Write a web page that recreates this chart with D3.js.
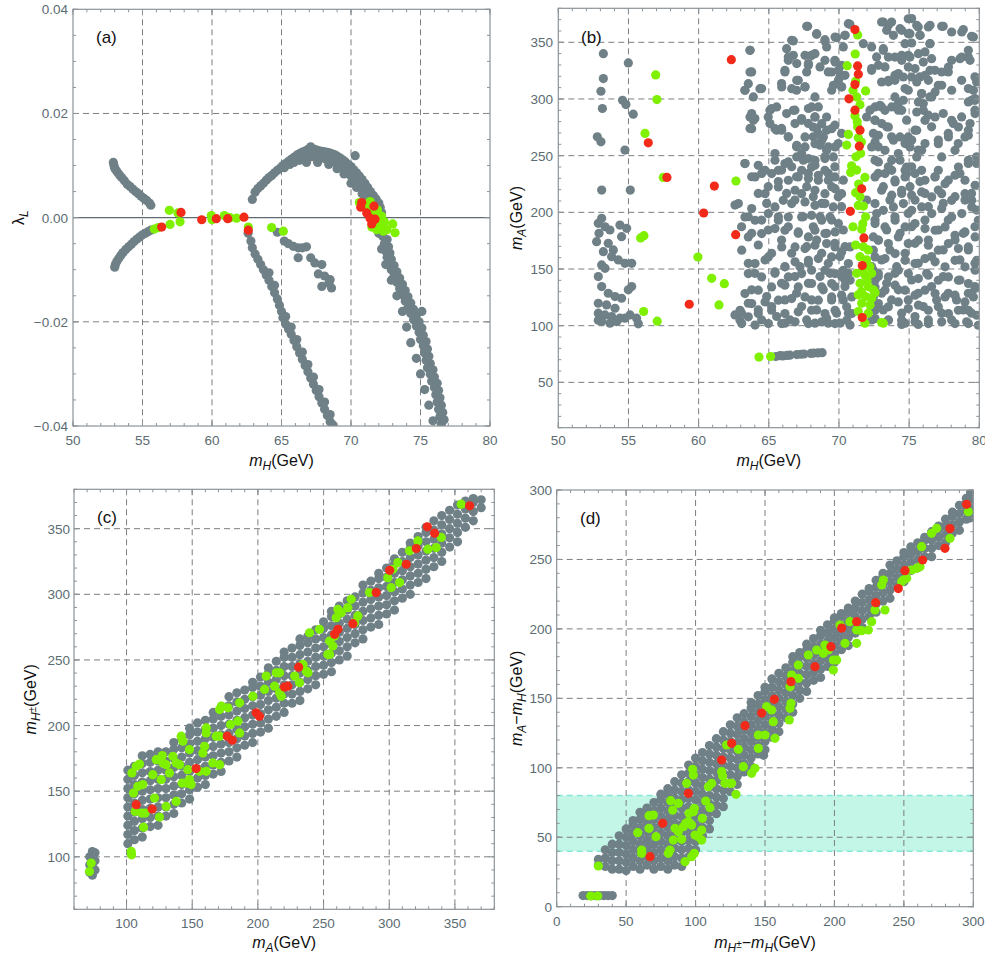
<!DOCTYPE html>
<meta charset="utf-8">
<script src="https://cdn.jsdelivr.net/npm/d3@7"></script>
<style>
  body { margin: 0; background: #fff; }
  text { font-family: "Liberation Sans", Arial, sans-serif; }
  .tick-label { font-size: 13.5px; fill: #5b6b72; }
  .title { font-size: 16px; fill: #111; }
  .tag { font-size: 17px; fill: #111; }
</style>

<div id="wrapper"></div>

<script>
  // ---------- panel (a): mH vs lambda_L ----------
  const aGray = [
    [52.9,0.0106],[52.95,0.0100],[53.0,0.0095],[53.1,0.0091],[53.2,0.0087],[53.35,0.0082],[53.5,0.0077],[53.7,0.0071],[53.9,0.0064],[54.1,0.0060],[54.3,0.0055],[54.5,0.0050],[54.7,0.0046],[54.9,0.0041],[55.1,0.0037],[55.3,0.0033],[55.5,0.0028],[55.6,0.0024],
    [53.0,-0.0095],[53.05,-0.0090],[53.15,-0.0084],[53.3,-0.0078],[53.45,-0.0072],[53.6,-0.0067],[53.8,-0.0061],[54.0,-0.0056],[54.2,-0.0051],[54.4,-0.0046],[54.6,-0.0041],[54.8,-0.0037],[55.0,-0.0033],[55.2,-0.0030],[55.4,-0.0027],[55.6,-0.0024],
    [62.9,0.0035],[63.1,0.0049],[63.3,0.0056],[63.5,0.0061],[63.7,0.0066],[63.9,0.0072],[64.1,0.0077],[64.3,0.0081],[64.5,0.0086],[64.7,0.0091],[64.9,0.0095],[65.1,0.0100],[65.3,0.0104],[65.2,0.0096],[65.5,0.0108],[65.7,0.0112],[65.6,0.0102],[65.9,0.0116],[66.1,0.0120],[65.9,0.0106],[66.3,0.0123],[66.5,0.0126],[66.3,0.0110],[66.7,0.0128],[66.9,0.0131],[66.6,0.0114],[67.1,0.0136],[67.2,0.0129],[67.0,0.0116],[67.4,0.0131],[67.6,0.0129],[67.4,0.0116],[67.8,0.0128],[68.0,0.0127],[67.8,0.0114],[68.2,0.0126],[68.4,0.0125],[68.2,0.0112],[68.6,0.0123],[68.8,0.0121],[68.6,0.0108],[69.0,0.0118],[69.2,0.0115],[69.0,0.0104],[69.4,0.0111],[69.6,0.0107],[69.4,0.0096],[69.8,0.0102],[70.0,0.0098],[69.8,0.0088],[70.3,0.0119],[70.2,0.0092],[70.0,0.0080],[70.4,0.0086],[70.6,0.0080],[70.3,0.0072],[70.8,0.0073],[71.0,0.0066],[70.6,0.0062],[71.2,0.0058],[71.4,0.0050],[70.9,0.0052],[71.6,0.0043],[71.8,0.0036],[71.2,0.0042],[72.0,0.0028],[71.5,0.0034],[72.1,0.0020],[72.2,0.0010],[72.3,-0.0005],
    [69.0,0.0094],[69.5,0.0084],[70.0,0.0066],[70.4,0.0058],[70.8,0.0046],[71.1,0.0034],[68.4,0.0102],[67.6,0.0106],[66.8,0.0106],
    [72.0,-0.0030],[72.3,-0.0036],[72.6,-0.0042],[72.4,-0.0050],[72.7,-0.0056],[72.5,-0.0064],[72.8,-0.0068],[72.6,-0.0076],[72.9,-0.0080],[72.7,-0.0088],[73.1,-0.0092],[72.9,-0.0100],[73.3,-0.0104],[73.1,-0.0112],[73.5,-0.0116],[73.3,-0.0124],[73.7,-0.0128],[73.5,-0.0136],[73.9,-0.0140],[73.7,-0.0148],[74.1,-0.0152],[73.9,-0.0160],[74.3,-0.0164],[74.1,-0.0172],[74.5,-0.0176],[74.3,-0.0184],[74.7,-0.0188],[74.5,-0.0196],[75.1,-0.0180],[74.9,-0.0200],[74.7,-0.0208],[75.1,-0.0212],[74.9,-0.0220],[75.2,-0.0226],[75.0,-0.0234],[75.4,-0.0238],[75.2,-0.0246],[75.5,-0.0252],[75.3,-0.0260],[75.6,-0.0266],[75.4,-0.0274],[75.7,-0.0280],[75.5,-0.0288],[75.9,-0.0292],[75.7,-0.0300],[76.0,-0.0306],[75.8,-0.0314],[76.2,-0.0318],[76.0,-0.0326],[76.3,-0.0332],[76.1,-0.0340],[76.4,-0.0346],[76.2,-0.0354],[76.5,-0.0360],[76.3,-0.0368],[76.6,-0.0374],[76.4,-0.0382],[76.7,-0.0388],[76.5,-0.0396],
    [72.2,-0.0060],[72.5,-0.0090],[72.9,-0.0120],[73.3,-0.0150],[73.7,-0.0180],[74.0,-0.0210],[74.3,-0.0240],[74.7,-0.0270],[75.0,-0.0300],[75.3,-0.0330],[75.6,-0.0360],[75.9,-0.0390],
    [62.6,-0.0030],[62.8,-0.0045],[62.9,-0.0058],[63.1,-0.0070],[63.3,-0.0080],[63.5,-0.0090],[63.7,-0.0100],[63.9,-0.0110],[64.1,-0.0120],[64.3,-0.0132],[64.5,-0.0144],[64.7,-0.0156],[64.85,-0.0168],[65.0,-0.0180],[65.1,-0.0192],[65.3,-0.0204],[65.5,-0.0214],[65.7,-0.0224],[65.9,-0.0236],[66.1,-0.0248],[66.3,-0.0260],[66.5,-0.0272],[66.7,-0.0284],[66.9,-0.0296],[67.1,-0.0308],[67.3,-0.0320],[67.5,-0.0332],[67.7,-0.0344],[67.9,-0.0356],[68.1,-0.0368],[68.3,-0.0380],[68.5,-0.0392],
    [65.3,-0.0190],[65.7,-0.0210],[66.1,-0.0234],[66.5,-0.0258],[66.9,-0.0282],[67.3,-0.0306],[67.7,-0.0330],[68.1,-0.0354],[68.5,-0.0378],[68.7,-0.0398],[64.5,-0.0130],[64.1,-0.0106],
    [64.7,-0.0028],[65.2,-0.0045],[65.5,-0.0050],[65.85,-0.0055],[66.2,-0.0058],[66.5,-0.0058],[66.8,-0.0056],[66.2,-0.0077],[67.1,-0.0077],[67.4,-0.0087],[67.9,-0.0090],[67.65,-0.0108],[68.1,-0.0112],[68.5,-0.0119],[67.9,-0.0132],[68.6,-0.0135],[68.4,-0.0126]
  ];
  const aGreen = [
    [55.85,-0.0022],[56.14,-0.0019],[56.98,-0.0013],[56.93,0.0014],[57.7,-0.0008],[57.55,0.0009],[59.95,0.0004],[60.0,-0.0004],[60.89,0.0004],[61.3,0.0],[61.77,-0.0001],[62.61,-0.0018],[64.29,-0.0019],[65.13,-0.0026],
    [70.6,0.0029],[71.37,0.0031],[71.6,0.0009],[71.97,-0.0004],[72.09,-0.0017],[72.33,-0.0026],[73.0,-0.0012],[73.17,-0.0029],[71.85,-0.0023],[72.2,0.0003],[71.13,0.0022],[72.58,-0.0023],[71.9,0.0015],[71.5,-0.0018],[72.4,-0.0008]
  ];
  const aRed = [
    [56.38,-0.0018],[57.77,0.001],[59.26,-0.0004],[60.31,-0.0002],[61.13,-0.0002],[62.3,0.0001],[62.61,-0.0024],
    [70.77,0.0029],[70.7,0.002],[71.65,0.0022],[71.13,0.0009],[71.37,-0.0001],[71.56,-0.0007],[71.73,-0.0003],[71.49,-0.0012]
  ];

  // ---------- panel (b): mH vs mA ----------
  const bGray = [
    [53.21,340],[53.21,318],[53.04,306.8],[53.14,291.6],[54.99,331.8],[54.58,298.9],[54.82,295.1],[55.34,286.6],[52.78,266.6],[53.04,262.2],[54.75,254.9],[53.09,219.6],[55.13,219.6],
    [53.09,194.7],[52.85,190.3],[53.33,187.3],[53.68,184.4],[52.9,181.5],[54.39,188.8],[54.87,185.9],[54.51,178.5],[52.73,174.1],[53.56,172.7],[53.92,166.8],[53.21,165.3],[53.8,160.9],[54.28,158.0],[54.75,155.0],[55.23,155.0],[53.09,153.6],[53.33,150.6],[52.85,143.3],[53.09,134.5],[55.23,134.5],[54.99,131.6],[53.56,128.6],[54.04,125.7],[54.51,124.2],[52.85,119.8],[53.44,118.3],[54.04,115.4],[52.85,111.0],[53.33,109.5],[53.8,108.1],[54.39,106.6],[55.11,109.5],[55.58,106.6],[53.09,103.6],[53.68,102.2],[54.16,103.6],[55.7,101.6],[52.85,104.7],[54.75,106.6],
    [67.77,364.1],[68.41,357.6],[69.0,351.2],[69.83,354.1],[70.43,356.2],[70.78,365.9],[73.04,367.9],[73.4,360.6],[73.75,367.9],[74.35,362.0],[74.94,370.8],[75.06,357.6],[75.65,363.5],[75.77,356.2],[76.37,363.5],[77.43,364.1],[78.03,359.1],[78.86,361.2],[79.45,355.3],[75.18,349.4],[76.48,348.8],[70.31,345.9],[69.12,345.9],[66.63,351.8],
    [63.66,343.0],[63.78,323.9],[63.3,307.7],[63.9,301.8],[64.49,309.2],[65.91,313.6],[66.15,323.9],[66.39,334.1],[66.75,338.5],[67.1,316.5],[66.98,307.7],[67.58,310.7],[67.82,329.7],[68.05,338.5],[68.65,328.3],[68.29,301.8],[69.24,323.9],[69.48,307.7],[69.71,334.1],[70.19,310.7],[70.07,319.5],[70.19,329.7],[72.33,345.9],[72.33,326.8],[72.68,337.1],[73.16,344.4],[73.28,328.3],[73.52,315.1],[73.99,320.9],[73.99,301.8],[74.47,334.1],[74.71,309.2],[74.94,338.5],[75.42,326.8],[75.77,319.5],[75.89,304.8],[76.13,341.5],[76.6,335.6],[76.37,316.5],[76.84,325.3],[76.48,301.8],[77.32,312.1],[77.79,323.9],[78.03,334.1],[78.62,335.6],[78.74,316.5],[79.22,309.2],[79.22,337.1],[79.69,319.5],[79.69,300.4],[79.45,298.9],
    [63.78,287.2],[64.01,282.8],[63.66,274.0],[65.2,291.6],[64.96,284.2],[65.91,274.0],[66.39,266.6],[65.56,272.5],[66.86,290.1],[67.34,282.8],[67.82,291.6],[68.29,284.2],[67.82,278.4],[68.41,274.0],[68.17,266.6],[68.77,263.7],[69.12,272.5],[69.24,257.8],[69.71,276.9],[70.19,269.6],[69.95,260.7],[66.98,257.8],[67.34,251.9],[72.21,290.1],[72.57,281.3],[72.45,269.6],[72.8,257.8],[73.04,293.0],[73.4,275.4],[73.75,266.6],[74.23,290.1],[74.59,298.9],[74.82,281.3],[75.18,263.7],[75.42,272.5],[75.65,254.9],[76.01,296.0],[76.37,285.7],[76.6,275.4],[77.08,263.7],[77.43,287.2],[77.79,269.6],[78.15,278.4],[78.5,260.7],[78.74,284.2],[79.22,268.1],[79.69,290.1],[79.81,249.0],[74.71,260.7],[76.13,260.7],
    [63.3,243.1],[63.78,231.4],[64.49,234.3],[64.96,222.6],[65.44,246.0],[65.91,237.3],[65.68,227.1],[66.27,216.7],[66.63,240.2],[66.98,231.4],[66.86,210.8],[67.46,246.0],[67.82,234.3],[67.7,222.6],[68.29,241.6],[68.53,228.4],[68.17,213.8],[68.77,207.9],[69.0,249.0],[69.24,234.3],[69.48,222.6],[69.71,240.2],[69.95,213.8],[70.31,228.4],[70.19,205.0],[62.59,206.4],[64.25,216.7],[64.85,207.9],[72.57,246.0],[72.8,234.3],[73.16,222.6],[73.52,240.2],[73.63,210.8],[73.99,228.4],[74.35,246.0],[74.47,216.7],[74.82,234.3],[75.06,222.6],[75.42,210.8],[75.77,227.1],[76.13,216.7],[76.37,205.0],[76.84,231.4],[77.08,219.6],[77.43,207.9],[77.79,228.4],[78.27,213.8],[78.62,234.3],[78.98,210.8],[79.45,216.7],[79.81,202.0],[79.22,243.1],[79.81,243.1],[75.18,240.2],[71.97,210.8],
    [63.06,187.3],[63.54,196.1],[63.78,181.5],[64.49,193.2],[64.25,171.2],[64.96,184.4],[65.2,163.9],[65.68,196.1],[65.91,175.6],[66.39,187.3],[66.63,163.9],[67.1,181.5],[67.46,196.1],[67.7,169.7],[67.82,155.0],[68.17,187.3],[68.41,175.6],[68.65,196.1],[68.77,163.9],[69.12,181.5],[69.24,155.0],[69.48,193.2],[69.71,172.7],[70.07,161.0],[70.31,184.4],[70.43,169.7],[63.54,155.0],[64.73,158.0],[66.15,152.1],[67.22,152.1],[72.57,193.2],[72.8,175.6],[73.04,158.0],[73.4,184.4],[73.63,166.8],[73.99,196.1],[74.11,152.1],[74.35,181.5],[74.71,163.9],[75.18,187.3],[75.42,172.7],[75.65,155.0],[76.13,193.2],[76.37,175.6],[76.6,161.0],[77.08,184.4],[77.43,166.8],[77.79,193.2],[78.27,175.6],[78.62,158.0],[78.86,181.5],[79.22,166.8],[79.69,155.0],[79.69,187.3],[72.33,152.1],[74.94,199.0],
    [62.59,109.5],[63.06,111.0],[62.94,105.1],[63.54,119.8],[63.78,131.6],[64.25,113.9],[64.49,105.1],[64.85,125.7],[65.2,116.9],[65.56,108.1],[65.91,137.4],[66.15,122.7],[66.51,105.1],[66.86,143.3],[66.98,128.6],[67.34,116.9],[67.7,105.1],[67.82,137.4],[68.05,122.7],[68.41,113.9],[68.65,143.3],[68.88,131.6],[69.12,106.6],[69.36,146.2],[69.48,122.7],[69.71,134.5],[69.83,111.0],[70.07,102.2],[70.19,143.3],[70.31,122.7],[70.43,134.5],[70.67,111.0],[70.67,146.2],[64.01,146.2],[65.44,146.2],[68.29,102.2],[69.24,102.2],[66.15,102.2],[72.8,143.3],[73.04,128.6],[73.16,113.9],[73.4,137.4],[73.52,105.1],[73.75,122.7],[73.99,146.2],[74.23,131.6],[74.47,111.0],[74.71,102.2],[74.94,122.7],[75.18,140.3],[75.42,108.1],[75.65,128.6],[76.01,116.9],[76.25,146.2],[76.37,105.1],[76.6,134.5],[76.96,122.7],[77.32,111.0],[77.43,143.3],[77.79,128.6],[78.03,105.1],[78.38,122.7],[78.62,140.3],[78.86,113.9],[79.22,128.6],[79.45,111.0],[79.69,134.5],[79.1,103.4],[75.65,101.1],[74.47,101.1],[72.33,105.1],
    [65.5,72.8],[65.8,73.5],[66.0,73.3],[66.3,73.8],[66.5,74.0],[67.0,74.5],[67.3,74.8],[67.5,75.0],[68.0,75.5],[68.2,75.8],[68.5,76.0],[68.8,76.2]
  ];
  // extra gray points read from close-ups of the dense right part of (b)
  const bGrayDense = [
    [67.70,364.1],[68.41,357.0],[69.0,352.3],[69.72,354.7],[70.43,356.2],[70.67,366.4],[71.74,348.8],[73.16,367.9],[73.52,365.0],[73.88,356.2],[74.47,360.6],[74.94,357.6],[75.18,370.9],[75.54,365.0],[75.78,356.2],[76.49,365.0],[77.32,364.1],[76.49,348.8],[74.71,348.8],[78.75,359.1],[79.58,354.7],
    [63.66,342.9],[66.75,351.2],[66.27,344.4],[66.39,337.0],[66.99,331.2],[67.58,338.5],[68.05,338.5],[67.82,331.2],[67.70,323.8],[68.29,340.0],[69.0,334.1],[69.72,332.6],[69.96,325.3],[69.48,323.8],[69.96,316.5],[69.6,312.1],[70.43,320.9],[70.19,310.6],[66.15,325.3],[63.66,323.8],[63.54,313.5],[63.3,307.7],[64.37,309.1],[65.92,310.6],[66.63,309.1],[66.99,316.5],[67.58,310.6],
    [72.33,325.3],[72.81,329.7],[73.16,342.9],[73.52,337.0],[73.99,337.0],[74.47,338.5],[75.06,337.0],[75.66,340.0],[76.01,332.6],[74.94,328.2],[74.23,322.4],[73.52,316.5],[73.04,315.0],[73.99,316.5],[74.59,319.4],[75.18,319.4],[75.54,315.0],[76.13,320.9],[76.49,325.3],[77.32,323.8],[77.08,312.1],[77.8,328.2],[78.75,337.0],[79.22,342.9],[79.34,334.1],[79.81,315.0],[79.58,307.7],[74.94,307.7],[75.89,304.7],[76.61,301.8],[76.85,306.2],[78.03,307.7],[75.66,297.4],[75.54,288.5],[79.22,297.4],[79.7,298.8],
    [63.66,284.1],[63.9,281.2],[63.78,273.8],[65.08,290.0],[65.56,293.0],[66.27,287.1],[66.75,290.0],[66.87,278.3],[67.34,281.2],[68.05,293.0],[68.53,293.0],[68.29,284.1],[68.17,275.3],[68.77,278.3],[69.12,284.1],[69.48,273.8],[68.89,266.5],[68.53,269.4],[65.08,278.3],[65.44,273.8],[65.92,272.4],[66.39,266.5],[67.58,266.5],[68.29,260.6],[66.99,259.2],[67.58,257.7],[68.65,259.2],[69.12,254.7],[69.72,257.7],[69.6,248.9],[69.0,247.4],[68.29,245.9],[67.82,247.4],[66.99,248.9],[66.39,244.5],[65.44,251.8],[65.68,237.1],[66.15,243.0],[64.25,241.5],[63.3,243.0],[64.73,237.1],[67.34,237.1],[68.05,240.0],[69.0,237.1],
    [71.97,284.1],[72.57,293.0],[72.92,294.4],[73.28,290.0],[73.76,293.0],[74.23,295.9],[74.47,290.0],[72.57,281.2],[73.04,278.3],[73.52,275.3],[72.81,268.0],[72.57,262.1],[72.33,257.7],[73.28,254.7],[73.88,263.6],[74.35,266.5],[74.94,266.5],[75.06,257.7],[74.23,251.8],[73.76,245.9],[72.81,244.5],[74.82,240.0],[75.54,248.9],[75.89,254.7],[75.54,272.4],[76.13,281.2],[76.01,290.0],[76.85,284.1],[78.03,281.2],[78.51,275.3],[77.8,266.5],[77.08,260.6],[77.32,248.9],[78.27,254.7],[78.98,266.5],[79.22,272.4],[79.7,287.1],[79.34,278.3],[79.22,245.9],[78.51,240.0],[77.08,237.1],[75.89,237.1],[74.71,237.1],[73.76,237.1],
    [64.02,231.2],[65.2,234.2],[66.39,228.3],[67.1,231.2],[67.82,229.8],[68.53,232.7],[69.24,228.3],[69.72,231.2],[65.68,222.4],[64.73,216.5],[66.87,219.5],[67.34,216.5],[68.29,219.5],[69.0,216.5],[69.72,220.9],[70.19,216.5],[66.03,210.6],[66.63,207.7],[67.58,209.2],[68.29,206.2],[69.0,207.7],[69.6,204.8],[62.83,207.7],[63.78,203.3],[65.44,204.8],[63.3,195.9],[64.02,193.0],[64.97,198.9],[65.68,193.0],[66.39,195.9],[67.34,195.9],[68.05,197.4],[68.77,193.0],[69.36,195.9],[69.96,190.1],[69.72,182.7],[69.0,181.3],[68.29,184.2],[67.82,178.3],[67.1,182.7],[66.15,184.2],[65.44,185.7],[64.49,181.3],[63.54,178.3],
    [65.92,169.5],[66.87,169.5],[67.58,168.0],[68.29,171.0],[69.12,172.4],[69.72,169.5],[70.19,165.1],[69.48,160.7],[68.53,159.2],[67.82,157.7],[66.87,156.3],[66.15,151.9],[64.97,160.7],[64.02,154.8],[63.07,166.6],[63.54,146.0],[64.49,143.0],[65.44,147.4],[66.39,143.0],[67.34,146.0],[68.05,148.9],[69.0,148.9],[69.72,146.0],[70.31,148.9],[70.43,140.1],[69.48,137.2],[68.77,134.2],[68.05,137.2],[67.1,134.2],[66.15,135.7],[65.2,134.2],[64.25,131.3],[63.3,128.3],
    [62.95,113.6],[63.78,119.5],[64.73,121.0],[65.68,122.5],[66.63,123.9],[67.58,125.4],[68.53,122.5],[69.48,125.4],[70.19,126.9],[70.55,116.6],[69.72,113.6],[69.0,110.7],[68.05,113.6],[67.1,112.2],[66.15,110.7],[65.2,113.6],[64.25,110.7],[63.54,107.8],[63.07,101.9],[64.02,100.5],[64.97,101.9],[65.92,101.9],[66.87,103.4],[67.82,101.9],[68.77,103.4],[69.72,101.9],[70.55,104.8],[70.79,100.5],
    [72.57,231.2],[73.28,234.2],[74.0,226.8],[74.71,231.2],[75.42,234.2],[76.13,228.3],[76.85,231.2],[77.56,225.3],[78.27,232.7],[78.98,228.3],[79.7,223.9],[73.04,219.5],[73.76,215.1],[74.47,219.5],[75.18,215.1],[75.89,218.0],[76.61,213.6],[77.32,216.5],[78.03,210.6],[78.98,216.5],[79.46,210.6],
    [72.57,207.7],[73.16,201.8],[73.88,204.8],[74.59,207.7],[75.18,201.8],[75.89,204.8],[76.61,198.9],[77.32,203.3],[78.03,195.9],[78.75,198.9],[79.46,204.8],[79.93,193.0],[72.57,190.1],[73.28,187.1],[74.0,193.0],[74.71,187.1],[75.42,190.1],[76.13,185.7],[76.85,184.2],[77.56,187.1],[78.27,179.8],[78.98,182.7],[79.7,178.3],
    [72.81,175.4],[73.52,172.4],[74.23,178.3],[74.94,172.4],[75.66,175.4],[76.37,171.0],[77.08,166.6],[77.8,172.4],[78.51,168.0],[79.22,169.5],[79.82,157.7],[72.57,160.7],[73.28,159.2],[74.0,163.6],[74.71,157.7],[75.42,154.8],[76.13,159.2],[76.85,156.3],[77.56,151.9],[78.27,157.7],[78.98,151.9],[79.7,148.9],
    [72.81,146.0],[73.52,143.0],[74.23,148.9],[74.94,146.0],[75.66,141.6],[76.37,144.5],[77.08,140.1],[77.8,143.0],[78.51,140.1],[79.22,137.2],[79.7,132.7],[72.57,134.2],[73.28,131.3],[74.0,135.7],[74.71,131.3],[75.42,126.9],[76.13,131.3],[76.85,128.3],[77.56,125.4],[78.27,126.9],[78.98,121.0],[79.58,125.4],
    [72.81,119.5],[73.52,116.6],[74.23,121.0],[74.94,115.1],[75.66,118.1],[76.37,113.6],[77.08,116.6],[77.8,110.7],[78.51,113.6],[79.22,113.6],[79.82,109.2],[72.57,106.3],[73.52,104.8],[74.47,104.8],[75.42,103.4],[76.37,101.9],[77.32,103.4],[78.27,101.9],[79.22,101.9],[79.93,100.4],
    [70.79,169.5],[70.67,154.8],[70.79,140.1],[70.91,125.4],[70.91,110.7],[72.69,198.9],[72.45,178.3],[72.45,166.6],[72.45,148.9],[72.57,140.1],[72.45,125.4],[72.57,113.6]
  ];
  const bGreen = [
    [56.94,321.2],[57.03,299.5],[56.18,269.6],[57.48,230.8],[55.87,177.4],[56.1,179.4],[59.95,160.6],[60.93,141.8],[61.83,137.1],[61.45,118.3],[56.08,112.5],[57.05,104.0],[62.66,227.6],[64.3,72.3],[65.13,72.8],
    [71.33,356.5],[71.16,339.7],[70.59,329.4],[71.19,315.6],[71.0,307.7],[71.9,307.1],[71.26,301.8],[71.14,285.1],[71.33,275.4],[70.67,268.7],[71.38,265.7],[70.55,259.3],[71.54,251.9],[71.21,249.0],[70.9,241.1],[71.26,237.3],[70.83,235.2],[71.85,230.8],[71.19,217.3],[71.5,213.8],[71.38,206.1],[71.74,205.5],[71.9,196.1],[71.0,187.3],[71.62,185.0],[71.19,171.2],[71.74,169.7],[72.09,166.8],[71.5,160.9],[71.97,158.0],[71.26,146.2],[71.85,144.8],[72.33,146.2],[71.5,137.4],[72.09,134.5],[72.45,131.6],[71.38,127.2],[71.9,125.7],[72.33,124.2],[71.62,119.8],[72.21,118.3],[71.38,112.5],[72.09,111.0],[71.85,102.2],[73.04,102.8],[73.16,102.2],[72.57,129.0],[71.74,150.6],[71.5,295],[71.3,280],[71.6,262],[71.4,225],[71.7,190],[72.0,140],[71.6,130],[72.2,152]
  ];
  const bRed = [
    [71.14,361.2],[71.33,329.2],[71.38,321.8],[71.14,312.7],[70.71,300.1],[71.14,290.1],[71.5,272.5],[71.45,258.4],[71.62,220.8],[70.81,200.9],[71.78,177.4],[71.66,153.0],[71.66,107.2],
    [56.41,261.3],[57.74,230.8],[61.12,223.2],[60.36,199.4],[62.64,180.3],[59.33,118.9],[62.33,334.7]
  ];

  // ---------- panel (c): mA vs mH+- (gray cloud read column by column) ----------
  const cGrayCols = [
    [72,[88,94,100]],[74,[86,92,98,104]],[76,[90,97,103]],
    [101,[110,117,124,131,138,145,152,159,166]],[106,[113,120,127,134,141,148,155,162,169]],[112,[115,122,129,136,143,150,157,164,171,177]],
    [118,[123,130,137,144,151,158,165,172,178]],[124,[124,131,138,145,152,159,166,173,180]],[130,[131,138,145,152,159,166,173,180]],
    [136,[133,140,147,154,161,168,175,182,187]],[142,[141,148,155,162,169,176,183,190]],[148,[144,151,158,165,172,179,186,193,198]],
    [154,[153,160,167,174,181,188,195,202]],[160,[155,162,169,176,183,190,197,204]],[166,[163,170,177,184,191,198,205,210]],
    [172,[165,172,179,186,193,200,207,214]],[178,[173,180,187,194,201,208,215,222]],[184,[176,183,190,197,204,211,218,225]],
    [190,[185,192,199,206,213,220,227]],[196,[187,194,201,208,215,222,229,233]],[202,[195,202,209,216,223,230,237]],
    [208,[198,205,212,219,226,233,240,244]],[214,[207,214,221,228,235,242,249]],[220,[210,217,224,231,238,245,252,256]],
    [226,[217,224,231,238,245,252,259]],[232,[219,226,233,240,247,254,261,266]],[238,[228,235,242,249,256,263,268]],
    [244,[231,238,245,252,259,266,273]],[250,[239,246,253,260,267,274,279]],[256,[241,248,255,262,269,276,283,287]],
    [262,[250,257,264,271,278,285,291]],[268,[253,260,267,274,281,288,295]],[274,[263,270,277,284,291,298]],
    [280,[266,273,280,287,294,301,307]],[286,[275,282,289,296,303,310]],[292,[277,284,291,298,305,312,316]],
    [298,[285,292,299,306,313,320]],[304,[288,295,302,309,316,323,327]],[310,[297,304,311,318,325,332]],
    [316,[300,307,314,321,328,335,339]],[322,[309,316,323,330,337,344]],[328,[312,319,326,333,340,347,351]],
    [334,[321,328,335,342,349,356]],[340,[325,332,339,346,353,360]],[346,[336,343,350,357,364]],
    [352,[340,347,354,361,368]],[358,[351,358,365,371]],[364,[356,363,370,373]],[370,[366,372]]
  ];
  const cGreen = [
    [103.6,104.1],[103.8,101.5],[73.1,95.2],[71.8,88.8],
    [104.1,163.9],[107.4,169.0],[109.9,170.7],[108.6,153.7],[112.4,155.0],[105.3,148.6],[106.6,134.6],[111.7,133.3],[114.2,133.3],[113.0,122.6],
    [120.0,162.6],[121.3,144.8],[125.1,130.3],[130.2,138.4],[126.4,158.8],[127.7,171.5],[122.6,174.0],[127.2,177.1],[130.2,170.2],[132.7,163.9],[135.3,176.6],[137.8,171.5],[140.4,170.2],[142.4,156.2],[145.4,156.2],[147.9,158.8],[146.7,166.4],[149.2,155.0],[137.8,142.2],
    [141.6,191.9],[142.9,188.0],[147.9,181.7],[159.4,184.2],[158.1,179.1],[160.7,194.4],[160.7,198.2],[155.6,165.1],[160.7,165.1],[170.9,212.2],[172.2,214.8],[168.3,191.9],[170.9,191.9],[165.7,171.5],[170.9,170.2],
    [177.2,213.5],[179.2,200.8],[184.8,203.3],[186.1,217.3],[186.1,194.4],[196.2,222.4],[206.3,237.7],[205.1,227.5],[212.7,230.0],[214.0,240.2],[216.5,240.2],[217.8,222.4],[216.5,225.0],[228.0,237.7],[231.7,232.6],[234.3,246.6],[236.8,241.5],[238.1,240.2],
    [239.3,270.7],[246.9,273.3],[254.6,264.4],[253.3,254.2],[254.6,254.2],[257.1,260.6],[258.4,268.2],[259.6,282.2],[260.9,288.5],[263.5,286.0],[268.5,289.8],[271.1,296.2],[276.1,283.5],[273.6,278.4],
    [285.0,301.3],[298.9,312.7],[301.5,305.1],[302.8,319.1],[306.6,324.2],[307.9,308.9],[315.5,333.1],[321.8,340.7],[329.4,334.4],[335.8,335.6],[339.6,343.3],[354.8,368.7]
  ];
  const cRed = [
    [107.4,139.7],[119.5,136.4],[153.0,167.2],[176.7,191.9],[180.5,188.8],[198.7,209.7],[201.2,207.1],[220.3,229.3],[222.8,230.0],[231.0,244.5],
    [258.4,269.5],[261.0,273.3],[272.3,277.6],[290.1,301.3],[300.3,318.3],[313.0,322.9],[320.6,334.9],[329.0,351.4],[334.5,346.6],[361.2,367.4]
  ];

  // ---------- panel (d): mH+- - mH vs mA - mH ----------
  const dGrayCols = [
    [19,[8]],[22,[8]],[25,[8]],[28,[8]],[31,[8]],[34,[8]],[37,[8]],[40,[8]],
    [30,[30,34]],[35,[29,35,41]],[40,[27,33,39,45]],[45,[27,33,39,45,51]],[50,[26,32,38,44,50,56]],[55,[29,35,41,47,53,59,62]],
    [60,[27,33,39,45,51,57,63,68]],[65,[30,36,42,48,54,60,66,71]],[70,[27,33,39,45,51,57,63,69,75]],[75,[29,35,41,47,53,59,65,71,77,81]],
    [80,[27,33,39,45,51,57,63,69,75,81,85]],[85,[30,36,42,48,54,60,66,72,78,84,90]],[90,[29,35,41,47,53,59,65,71,77,83,89,95]],
    [95,[36,42,48,54,60,66,72,78,84,90,96,102]],[100,[41,47,53,59,65,71,77,83,89,95,101,107]],[105,[51,57,63,69,75,81,87,93,99,105,111]],
    [110,[56,62,68,74,80,86,92,98,104,110,116]],[115,[67,73,79,85,91,97,103,109,115,121]],[120,[72,78,84,90,96,102,108,114,120,126]],
    [125,[83,89,95,101,107,113,119,125,131]],[130,[88,94,100,106,112,118,124,130,136]],[135,[97,103,109,115,121,127,133,139]],
    [140,[101,107,113,119,125,131,137,143,147]],[145,[110,116,122,128,134,140,146,152]],[150,[113,119,125,131,137,143,149,155,158]],
    [155,[122,128,134,140,146,152,158,164]],[160,[126,132,138,144,150,156,162,168]],[165,[136,142,148,154,160,166,172]],
    [170,[140,146,152,158,164,170,176,180]],[175,[150,156,162,168,174,180,183]],[180,[155,161,167,173,179,185,189]],
    [185,[163,169,175,181,187,193]],[190,[165,171,177,183,189,195,199]],[195,[173,179,185,191,197,203]],
    [200,[176,182,188,194,200,206,208]],[205,[185,191,197,203,209,211]],[210,[188,194,200,206,212,215]],
    [215,[197,203,209,215,220]],[220,[201,207,213,219,225]],[225,[209,215,221,227,229]],[230,[212,218,224,230,235]],
    [235,[220,226,232,238,240]],[240,[222,228,234,240,246]],[245,[231,237,243,249]],[250,[234,240,246,252,255]],
    [255,[242,248,254,259]],[260,[244,250,256,262]],[265,[252,258,264,266]],[270,[252,258,264,270]],
    [275,[260,266,272,274]],[280,[262,268,274,279]],[285,[269,275,281,284]],[290,[271,277,283,289]],
    [295,[279,285,291,294]],[298,[280,286,292,298]],[149,[109]]
  ];
  const dGreen = [
    [24.5,7.7],[29.5,7.7],[30,29.3],[58.3,53.3],[61.2,40.8],[61.2,38.4],[66.5,65.5],[69.6,66.0],[66.5,56.4],[71.5,50.4],[82.1,76.3],[83.5,69.6],[87.6,74.4],[85.2,56.4],[87.6,54.0],[84.0,48.0],[90.0,48.5],[80.4,38.4],[81.6,40.8],[91.2,57.6],[92.9,60.0],[92.4,32.4],[97.2,36.0],[99.1,38.4],
    [95.3,67.2],[98.4,68.4],[99.1,70.8],[94.8,61.2],[97.2,58.8],[99.6,51.6],[102.0,50.4],[104.4,48.0],[104.4,55.2],[104.9,63.6],[97.9,98.9],[98.4,94.8],[93.6,88.8],[107.3,76.1],[110.4,71.3],[109.2,86.4],[111.6,88.8],
    [118.8,97.2],[119.5,94.1],[121.2,88.8],[124.8,88.8],[126.0,88.8],[129.1,80.9],[122.4,116.4],[130.8,113.3],[134.4,100.8],[142.8,99.6],[140.4,96.0],[145.2,114.0],[145.2,123.6],[150.0,123.6],[151.2,144.0],[154.8,141.6],[156.0,133.2],[157.2,121.2],
    [167.5,134.4],[168.0,142.8],[168.7,146.4],[168.0,158.4],[169.2,166.8],[174.0,164.4],[174.0,174.0],[181.2,181.2],[187.2,184.8],[192.0,182.4],[195.6,184.8],[193.2,188.4],[199.2,170.4],[199.2,177.6],[201.6,177.6],
    [204.0,202.8],[207.6,189.6],[211.2,205.2],[216.0,199.2],[216.0,189.6],[219.6,198.7],[224.4,199.2],[226.8,205.2],[229.2,213.6],[236.4,213.6],[234.0,231.6],[235.2,235.2],[248.4,234.0],[249.6,235.2],[252.0,236.4],[255.6,242.4],[259.2,243.6],[261.6,244.8],[262.8,259.2],[270.0,268.8],[273.6,272.4],[283.2,265.2],[296.4,284.4]
  ];
  const dRed = [
    [67.2,36.0],[76.3,60.0],[94.8,81.6],[118.8,105.6],[126.0,117.6],[135.6,130.3],[147.6,139.4],[156.7,149.3],[168.7,162.0],[186.0,172.8],
    [197.5,187.2],[205.2,200.6],[216.0,205.2],[229.7,218.9],[246.0,229.0],[250.8,241.9],[263.5,249.6],[279.6,258.0],[283.2,272.2],[295.2,289.7]
  ];
  const dBand = [40, 80];

  // ticks and labels
  const mTicks = [50, 55, 60, 65, 70, 75, 80];
  const lamTicks = [-0.04, -0.02, 0, 0.02, 0.04];
  const lamLabels = ["\u22120.04", "\u22120.02", "0.00", "0.02", "0.04"];
  const bYTicks = [50, 100, 150, 200, 250, 300, 350];
  const cTicks = [100, 150, 200, 250, 300, 350];
  const dTicks = [0, 50, 100, 150, 200, 250, 300];

  const grayC = "#6f8087", greenC = "#7ef000", redC = "#f22a1a";

  const cols = rows => rows.flatMap(r => r[1].map(v => [r[0], v]));

  const svg = d3.select("#wrapper").append("svg")
    .attr("width", 985)
    .attr("height", 959);

  let clipId = 0;

  function drawPanel(p) {
    const x = d3.scaleLinear().domain(p.xDomain).range([p.left, p.right]);
    const y = d3.scaleLinear().domain(p.yDomain).range([p.bottom, p.top]);
    const g = svg.append("g");
    const id = "clip" + (clipId++);
    g.append("clipPath").attr("id", id).append("rect")
      .attr("x", p.left).attr("y", p.top)
      .attr("width", p.right - p.left).attr("height", p.bottom - p.top);

    // shaded band (panel d)
    if (p.band) {
      g.append("rect")
        .attr("x", p.left).attr("width", p.right - p.left)
        .attr("y", y(p.band[1])).attr("height", y(p.band[0]) - y(p.band[1]))
        .attr("fill", "#c4f6e7");
      p.band.forEach(v => g.append("line")
        .attr("x1", p.left).attr("x2", p.right).attr("y1", y(v)).attr("y2", y(v))
        .attr("stroke", "#86e8d8").attr("stroke-width", 1.5).attr("stroke-dasharray", "6,4"));
    }

    // dashed grid
    const inX = p.xTicks.filter(v => v > p.xDomain[0] && v < p.xDomain[1]);
    const inY = p.yTicks.filter(v => v > p.yDomain[0] && v < p.yDomain[1]);
    g.append("g").selectAll("line").data(inX).join("line")
      .attr("x1", d => x(d)).attr("x2", d => x(d)).attr("y1", p.top).attr("y2", p.bottom)
      .attr("stroke", "#7b7f82").attr("stroke-dasharray", "6,4");
    g.append("g").selectAll("line").data(inY.filter(v => !(p.zeroLine && v === 0))).join("line")
      .attr("x1", p.left).attr("x2", p.right).attr("y1", d => y(d)).attr("y2", d => y(d))
      .attr("stroke", "#7b7f82").attr("stroke-dasharray", "6,4");
    if (p.zeroLine) {
      g.append("line").attr("x1", p.left).attr("x2", p.right).attr("y1", y(0)).attr("y2", y(0))
        .attr("stroke", "#5f6a70").attr("stroke-width", 1.2);
    }

    // points
    const pts = g.append("g").attr("clip-path", `url(#${id})`);
    p.series.forEach(s => {
      pts.append("g").selectAll("circle").data(s.data).join("circle")
        .attr("cx", d => x(d[0])).attr("cy", d => y(d[1]))
        .attr("r", 4.6).attr("fill", s.color);
    });

    // frame
    g.append("rect").attr("x", p.left).attr("y", p.top)
      .attr("width", p.right - p.left).attr("height", p.bottom - p.top)
      .attr("fill", "none").attr("stroke", "#8c9397").attr("stroke-width", 1.2);

    // inward ticks on all four sides
    const tk = g.append("g").attr("stroke", "#8c9397");
    const addX = (vals, len) => vals.forEach(v => {
      tk.append("line").attr("x1", x(v)).attr("x2", x(v)).attr("y1", p.bottom).attr("y2", p.bottom - len);
      tk.append("line").attr("x1", x(v)).attr("x2", x(v)).attr("y1", p.top).attr("y2", p.top + len);
    });
    const addY = (vals, len) => vals.forEach(v => {
      tk.append("line").attr("y1", y(v)).attr("y2", y(v)).attr("x1", p.left).attr("x2", p.left + len);
      tk.append("line").attr("y1", y(v)).attr("y2", y(v)).attr("x1", p.right).attr("x2", p.right - len);
    });
    addX(d3.range(p.xDomain[0], p.xDomain[1] + 1e-9, p.xMinor).filter(v => v >= p.xDomain[0]), 3);
    addY(d3.range(p.yMinorStart, p.yDomain[1] + 1e-9, p.yMinor).filter(v => v >= p.yDomain[0]), 3);
    addX(p.xTicks, 5.5);
    addY(p.yTicks, 5.5);

    // tick labels
    g.append("g").selectAll("text").data(p.xTicks).join("text")
      .attr("class", "tick-label").attr("text-anchor", "middle")
      .attr("x", d => x(d)).attr("y", p.xLabelY)
      .text((d, i) => p.xLabels ? p.xLabels[i] : d);
    g.append("g").selectAll("text").data(p.yTicks).join("text")
      .attr("class", "tick-label").attr("text-anchor", "end")
      .attr("x", p.yLabelX).attr("y", d => y(d) + 5)
      .text((d, i) => p.yLabels ? p.yLabels[i] : d);

    // panel tag
    g.append("text").attr("class", "tag").attr("x", p.tag[1]).attr("y", p.tag[2]).text(p.tag[0]);

    // axis titles
    const xt = g.append("text").attr("class", "title").attr("text-anchor", "middle")
      .attr("x", (p.left + p.right) / 2).attr("y", p.xTitleY);
    mathText(xt, p.xTitle);
    const yt = g.append("text").attr("class", "title").attr("text-anchor", "middle")
      .attr("transform", `translate(${p.yTitleX},${(p.top + p.bottom) / 2}) rotate(-90)`);
    mathText(yt, p.yTitle);
  }

  function mathText(sel, parts) {
    parts.forEach(pt => {
      const t = sel.append("tspan").text(pt.t);
      if (pt.it) t.style("font-style", "italic");
      if (pt.fs) t.style("font-size", pt.fs + "px");
      if (pt.dy) t.attr("dy", pt.dy);
    });
  }

  const mHTitle = [{ t: "m", it: 1 }, { t: "H", it: 1, fs: 12, dy: 4 }, { t: "(GeV)", dy: -4 }];
  const mATitle = [{ t: "m", it: 1 }, { t: "A", it: 1, fs: 12, dy: 4 }, { t: "(GeV)", dy: -4 }];

  drawPanel({
    left: 73, right: 490, top: 9.3, bottom: 426,
    xDomain: [50, 80], yDomain: [-0.04, 0.04],
    xTicks: mTicks, yTicks: lamTicks, yLabels: lamLabels,
    xMinor: 1, yMinor: 0.005, yMinorStart: -0.04,
    xLabelY: 445, yLabelX: 68, zeroLine: true,
    tag: ["(a)", 96, 43],
    xTitle: mHTitle, xTitleY: 466,
    yTitle: [{ t: "\u03bb" }, { t: "L", it: 1, fs: 12, dy: 4 }], yTitleX: 24,
    series: [{ data: aGray, color: grayC }, { data: aGreen, color: greenC }, { data: aRed, color: redC }]
  });

  drawPanel({
    left: 558.3, right: 979.3, top: 8.3, bottom: 427.7,
    xDomain: [50, 80], yDomain: [10, 380],
    xTicks: mTicks, yTicks: bYTicks,
    xMinor: 1, yMinor: 10, yMinorStart: 10,
    xLabelY: 445, yLabelX: 553,
    tag: ["(b)", 581, 43],
    xTitle: mHTitle, xTitleY: 466,
    yTitle: mATitle, yTitleX: 522,
    series: [{ data: bGray.concat(bGrayDense), color: grayC }, { data: bGreen, color: greenC }, { data: bRed, color: redC }]
  });

  drawPanel({
    left: 74, right: 494.3, top: 489.3, bottom: 909.3,
    xDomain: [60, 380], yDomain: [60, 380],
    xTicks: cTicks, yTicks: cTicks,
    xMinor: 10, yMinor: 10, yMinorStart: 60,
    xLabelY: 928, yLabelX: 70,
    tag: ["(c)", 97, 523],
    xTitle: mATitle, xTitleY: 948,
    yTitle: [{ t: "m", it: 1 }, { t: "H", it: 1, fs: 12, dy: 4 }, { t: "\u00b1", fs: 10, dy: -4 }, { t: "(GeV)" }], yTitleX: 36,
    series: [{ data: cols(cGrayCols), color: grayC }, { data: cGreen, color: greenC }, { data: cRed, color: redC }]
  });

  drawPanel({
    left: 556.7, right: 973.3, top: 490, bottom: 906.7,
    xDomain: [0, 300], yDomain: [0, 300],
    xTicks: dTicks, yTicks: dTicks,
    xMinor: 10, yMinor: 10, yMinorStart: 0,
    xLabelY: 926, yLabelX: 552,
    tag: ["(d)", 580, 524], band: dBand,
    xTitle: [{ t: "m", it: 1 }, { t: "H", it: 1, fs: 12, dy: 4 }, { t: "\u00b1", fs: 10, dy: -4 }, { t: "\u2212" }, { t: "m", it: 1 }, { t: "H", it: 1, fs: 12, dy: 4 }, { t: "(GeV)", dy: -4 }],
    xTitleY: 948,
    yTitle: [{ t: "m", it: 1 }, { t: "A", it: 1, fs: 12, dy: 4 }, { t: "\u2212", dy: -4 }, { t: "m", it: 1 }, { t: "H", it: 1, fs: 12, dy: 4 }, { t: "(GeV)", dy: -4 }],
    yTitleX: 522,
    series: [{ data: cols(dGrayCols), color: grayC }, { data: dGreen, color: greenC }, { data: dRed, color: redC }]
  });
</script>
